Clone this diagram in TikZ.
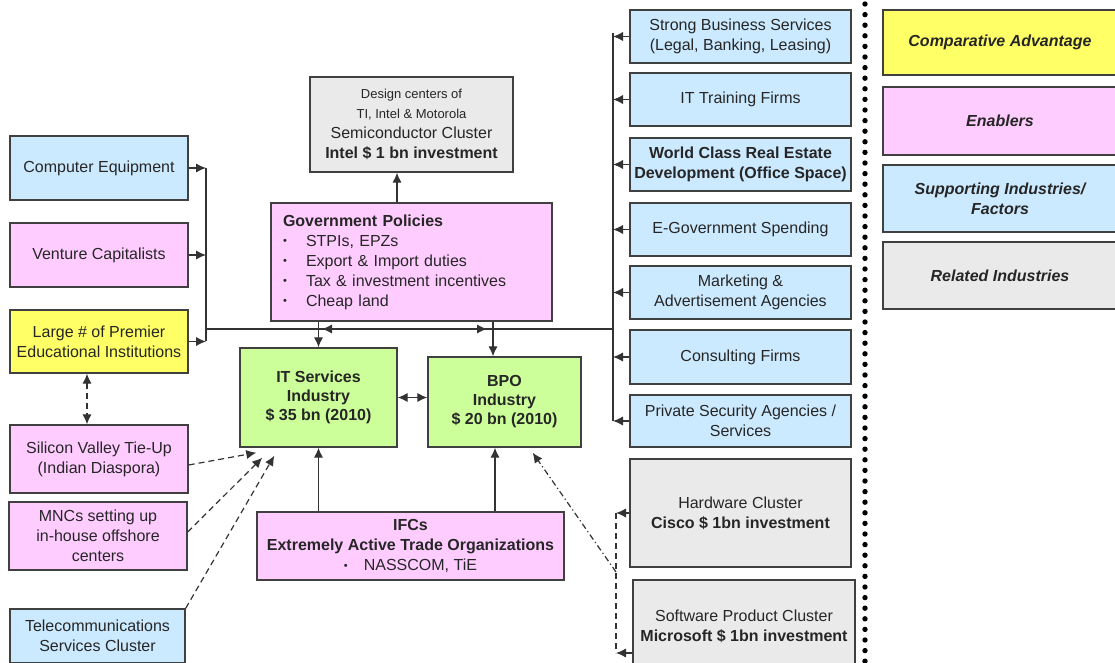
\documentclass[tikz,border=0pt]{standalone}
\usepackage{fontspec}
\setmainfont{Liberation Sans}
\usetikzlibrary{arrows.meta,calc}

\definecolor{suppblue}{RGB}{204,234,255}
\definecolor{enabpink}{RGB}{255,204,255}
\definecolor{advyellow}{RGB}{255,255,102}
\definecolor{coregreen}{RGB}{204,255,153}
\definecolor{relgray}{RGB}{234,234,234}

\newcommand{\smallnote}[1]{{\fontsize{6.5}{8}\selectfont #1}}
\newcommand{\dotmark}{\raisebox{0.6pt}{\fontsize{5.5}{6}\selectfont\textbullet}}
\newcommand{\bul}{\makebox[11.5pt][l]{\dotmark}}

\tikzset{
  box/.style={draw=black!75, line width=0.7pt, text=black!85, align=center,
    inner sep=1pt, font=\fontsize{8}{10}\selectfont},
  dims/.style 2 args={minimum width=#1*0.5pt, minimum height=#2*0.5pt},
  factor/.style={box, fill=suppblue},
  enabler/.style={box, fill=enabpink},
  advantage/.style={box, fill=advyellow},
  related/.style={box, fill=relgray},
  core/.style={box, fill=coregreen, font=\fontsize{8}{9.5}\selectfont\bfseries},
  legend/.style={box, font=\fontsize{8}{10}\selectfont\bfseries\itshape},
  bus/.style={line width=0.6pt, draw=black!80},
  link/.style={bus, -{Latex[length=5pt,width=4.6pt]}},
  twoway/.style={bus, {Latex[length=5pt,width=4.6pt]}-{Latex[length=5pt,width=4.6pt]}},
  loose/.style={dash pattern=on 3pt off 2pt},
  dashdot/.style={dash pattern=on 3pt off 1.5pt on 0.6pt off 1.5pt},
}

\begin{document}
\begin{tikzpicture}[x=0.5pt,y=-0.5pt]
\useasboundingbox (0,0) rectangle (1115,663);

% left column
\node[factor, dims={178}{64}] (compeq) at (99,168) {Computer Equipment};
\node[enabler, dims={178}{64}] (venture) at (99,255) {Venture Capitalists};
\node[advantage, dims={178}{63}] (edu) at (99,341.5) {Large \# of Premier\\Educational Institutions};
\node[enabler, dims={178}{68}] (svalley) at (99,459) {Silicon Valley Tie-Up\\(Indian Diaspora)};
\node[enabler, dims={178}{68}] (mnc) at (98,536) {MNCs setting up\\in-house offshore\\centers};
\node[factor, dims={175}{54}] (telecom) at (97.5,636) {Telecommunications\\Services Cluster};

% centre
\node[related, dims={203}{95}] (semi) at (411.5,124.5)
  {\smallnote{Design centers of}\\\smallnote{TI, Intel \& Motorola}\\Semiconductor Cluster\\\textbf{Intel \$ 1 bn investment}};
\node[enabler, dims={281}{118}, align=left, inner xsep=6pt, text width=128.5pt] (gov) at (411.5,262)
  {\textbf{Government Policies}\\\bul STPIs, EPZs\\\bul Export \& Import duties\\\bul Tax \& investment incentives\\\bul Cheap land};
\node[core, dims={157}{99}] (itind) at (318.5,397.5) {IT Services\\Industry\\\$ 35 bn (2010)};
\node[core, dims={153}{90}] (bpo) at (504.5,402) {BPO\\Industry\\\$ 20 bn (2010)};
\node[enabler, dims={307}{68}] (ifc) at (410.5,546)
  {\textbf{IFCs}\\\textbf{Extremely Active Trade Organizations}\\\dotmark\hspace{8pt}NASSCOM, TiE};

% right column
\node[factor, dims={221}{53}] (sbs) at (740.5,36.5) {Strong Business Services\\(Legal, Banking, Leasing)};
\node[factor, dims={221}{53}] (itt) at (740.5,99.5) {IT Training Firms};
\node[factor, dims={221}{53}, font=\fontsize{8}{10}\selectfont\bfseries] (wcre) at (740.5,164.5) {World Class Real Estate\\Development (Office Space)};
\node[factor, dims={221}{53}] (egov) at (740.5,229.5) {E-Government Spending};
\node[factor, dims={221}{53}] (mkt) at (740.5,292.5) {Marketing \&\\Advertisement Agencies};
\node[factor, dims={221}{54}] (cons) at (740.5,357) {Consulting Firms};
\node[factor, dims={221}{52}] (psec) at (740.5,421) {Private Security Agencies /\\Services};
\node[related, dims={221}{108}] (hw) at (740.5,513) {Hardware Cluster\\\textbf{Cisco \$ 1bn investment}};
\node[related, dims={222}{92}] (sw) at (744,626) {Software Product Cluster\\\textbf{Microsoft \$ 1bn investment}};

% legend
\node[legend, fill=advyellow, dims={234}{65}] (lgadv) at (1000,42.5) {Comparative Advantage};
\node[legend, fill=enabpink, dims={234}{68}] (lgenab) at (1000,121) {Enablers};
\node[legend, fill=suppblue, dims={234}{67}] (lgsupp) at (1000,198.5) {Supporting Industries/\\Factors};
\node[legend, fill=relgray, dims={234}{67}] (lgrel) at (1000,275.5) {Related Industries};

\draw[line width=2.7pt, line cap=round, dash pattern=on 0pt off 5.3pt] (865,4) -- (865,663);

% buses
\coordinate (lbus) at (206,329);
\coordinate (rbus) at (613,329);
\draw[bus] (compeq.east -| lbus) -- (edu.east -| lbus);
\draw[bus] (lbus) -- (rbus);
\draw[bus] ([yshift=1.75pt]sbs.west -| rbus) -- (psec.west -| rbus);
\foreach \n in {compeq,venture,edu}
  \draw[link] (\n.east) -- (\n.east -| lbus);
\foreach \n in {sbs,itt,wcre,egov,mkt,cons,psec}
  \draw[link] (\n.west) -- (\n.west -| rbus);
\draw[twoway] ($(lbus)+(116,0)$) -- ($(lbus)+(281,0)$);

% policies and industries
\draw[link] ([xshift=-7.25pt]semi.south |- gov.north) -- ([xshift=-7.25pt]semi.south);
\draw[link] (itind.north |- gov.south) -- (itind.north);
\draw[link] ([xshift=-5.75pt]bpo.north |- gov.south) -- ([xshift=-5.75pt]bpo.north);
\draw[twoway] (itind.east) -- (itind.east -| bpo.west);
\draw[link] (itind.south |- ifc.north) -- (itind.south);
\draw[link] ([xshift=-4.75pt]bpo.south |- ifc.north) -- ([xshift=-4.75pt]bpo.south);

% dashed links
\draw[twoway, loose] ([xshift=-6pt]edu.south) -- ([xshift=-6pt]svalley.north);
\draw[link, loose] ($(svalley.east)+(0,6)$) -- ($(itind.south west)+(17,5)$);
\draw[link, loose] ($(mnc.east)+(0,-4)$) -- ($(itind.south west)+(23,10)$);
\draw[link, loose] (telecom.north east) -- ($(itind.south west)+(35,8)$);

% related clusters
\coordinate (rlink) at (616,513);
\coordinate (swin) at ($(sw.west)+(0,27)$);
\draw[link] (hw.west) -- (hw.west -| rlink);
\draw[link] (swin) -- (swin -| rlink);
\draw[bus, loose] (hw.west -| rlink) -- (swin -| rlink);
\draw[link, dashdot] ($(rlink)+(0,59)$) -- ($(bpo.south east)+(-49,5)$);

\end{tikzpicture}
\end{document}
